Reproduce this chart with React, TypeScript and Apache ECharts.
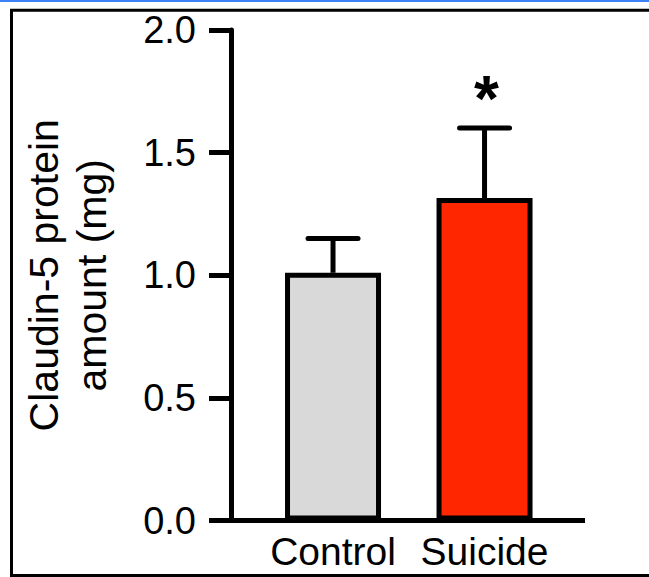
import React, { useEffect, useRef } from "react";
import * as echarts from "echarts";

const categories = ["Control", "Suicide"];
const categoryPositions = [1, 2];
const means = [1.01, 1.315];
const errors = [0.14, 0.285];
const significance = ["", "*"];
const barColors = ["#d9d9d9", "#ff2600"];
const yTicks = [0, 0.5, 1.0, 1.5, 2.0];
const yTitle = "Claudin-5 protein\namount (mg)";

const FONT = "'Liberation Sans', Arial, Helvetica, sans-serif";

export default function App() {
  const ref = useRef<HTMLDivElement>(null);

  useEffect(() => {
    document.body.style.margin = "0";
    if (!ref.current) return;
    const chart = echarts.init(ref.current, null, { renderer: "svg" });

    const barData = categories.map((c, i) => ({
      value: [categoryPositions[i], means[i]],
      itemStyle: { color: barColors[i] },
    }));
    const errData = categories.map((c, i) => [categoryPositions[i], means[i], errors[i]]);

    chart.setOption({
      animation: false,
      backgroundColor: "#ffffff",
      textStyle: { fontFamily: FONT, color: "#000" },
      grid: { left: 209, right: 64, top: 30, bottom: 56.5, containLabel: false },
      xAxis: {
        type: "value",
        min: 0.1815,
        max: 2.663,
        splitLine: { show: false },
        axisTick: { show: false },
        axisLine: { show: true, onZero: true, lineStyle: { color: "#000", width: 5, cap: "butt" } },
        axisLabel: {
          customValues: categoryPositions,
          formatter: (v: number) => categories[Math.round(v) - 1] ?? "",
          fontSize: 39,
          color: "#000",
          fontFamily: FONT,
          margin: 11,
        },
      },
      yAxis: {
        type: "value",
        min: 0,
        max: 2,
        interval: 0.5,
        offset: -22,
        splitLine: { show: false },
        axisLine: { show: true, lineStyle: { color: "#000", width: 5 } },
        axisTick: { show: true, inside: false, length: 22, lineStyle: { color: "#000", width: 5 } },
        axisLabel: {
          formatter: (v: number) => (yTicks.includes(v) ? v.toFixed(1) : ""),
          fontSize: 38,
          color: "#000",
          fontFamily: FONT,
          margin: 35,
        },
        name: yTitle,
        nameLocation: "middle",
        nameRotate: 90,
        nameGap: 115,
        nameTextStyle: { fontSize: 41, lineHeight: 48, color: "#000", fontFamily: FONT },
      },
      graphic: [
        { type: "rect", shape: { x: 0, y: 0, width: 649, height: 2 }, style: { fill: "#3b82f6" }, silent: true },
        {
          type: "rect",
          shape: { x: 11.5, y: 10.2, width: 700, height: 565.3 },
          style: { fill: "none", stroke: "#000", lineWidth: 3 },
          silent: true,
        },
      ],
      series: [
        {
          type: "bar",
          data: barData,
          barWidth: 96,
          itemStyle: { borderColor: "#000", borderWidth: 5 },
          z: 2,
        },
        {
          type: "custom",
          data: errData,
          z: 3,
          renderItem: (params: any, api: any) => {
            const x = api.value(0);
            const m = api.value(1);
            const e = api.value(2);
            const p0 = api.coord([x, m]);
            const p1 = api.coord([x, m + e]);
            const children: any[] = [
              {
                type: "line",
                shape: { x1: p0[0], y1: p0[1], x2: p1[0], y2: p1[1] },
                style: { stroke: "#000", lineWidth: 5 },
              },
              {
                type: "line",
                shape: { x1: p1[0] - 25, y1: p1[1], x2: p1[0] + 25, y2: p1[1] },
                style: { stroke: "#000", lineWidth: 5, lineCap: "round" },
              },
            ];
            const sig = significance[params.dataIndex];
            if (sig) {
              children.push({
                type: "text",
                x: p1[0] + 2,
                y: p1[1] - 29,
                style: {
                  text: sig,
                  fontSize: 64,
                  fontWeight: "bold",
                  fontFamily: FONT,
                  fill: "#000",
                  align: "center",
                  verticalAlign: "middle",
                },
              });
            }
            return { type: "group", children };
          },
        },
      ],
    });

    return () => chart.dispose();
  }, []);

  return <div ref={ref} style={{ width: 649, height: 577 }} />;
}
